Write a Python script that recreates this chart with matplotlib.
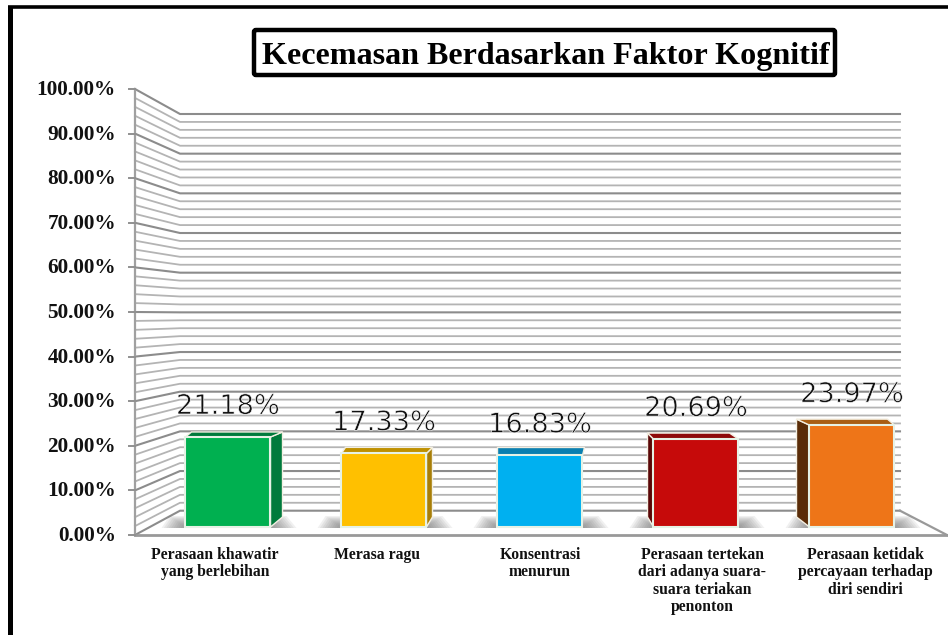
#!/usr/bin/env python3
import matplotlib
matplotlib.use('Agg')
import matplotlib.pyplot as plt
import matplotlib.patheffects as pe
from matplotlib.patches import Polygon, FancyBboxPatch

judul = "Kecemasan Berdasarkan Faktor Kognitif"
kategori = ["Perasaan khawatir\nyang berlebihan", "Merasa ragu", "Konsentrasi\nmenurun",
            "Perasaan tertekan\ndari adanya suara-\nsuara teriakan\npenonton",
            "Perasaan ketidak\npercayaan terhadap\ndiri sendiri"]
nilai = [21.18, 17.33, 16.83, 20.69, 23.97]
tick_nilai = [0, 10, 20, 30, 40, 50, 60, 70, 80, 90, 100]
warna_depan = ["#00B050", "#FFC000", "#00B0F0", "#C60A0A", "#EE7518"]
warna_atas = ["#007A3C", "#BF9000", "#0A7FB0", "#8E0A0A", "#A85E14"]
warna_sisi = ["#007A3C", "#A87E08", "#0A7FB0", "#5A0606", "#5A2C08"]

# layout in pixels of the 948x635 picture
KIRI, DINDING, KANAN, UJUNG = 135, 180, 900, 947
DASAR_KIRI, SKALA_KIRI = 535, 4.46
DASAR_BLK, SKALA_BLK = 510.7, 3.967
DASAR_BAR, SKALA_BAR = 527, 4.25
TENGAH, JARAK_BAR, LEBAR_BAR = 540, 156, 85
# how far the side edge and the far top edge shift, per bar
geser_sisi = [12, 6, 0, -6, -13]
geser_atas = [6, 4, 2, -9, -7]
tinggi_atas = [5, 6, 8, 6, 6]

serif = "Liberation Serif"

fig = plt.figure(figsize=(9.48, 6.35), dpi=100)
ax = fig.add_axes([0, 0, 1, 1])
ax.set_xlim(0, 948)
ax.set_ylim(635, 0)
ax.axis("off")

# outer frame, only left and top show
ax.plot([10.5, 10.5], [6, 635], color="black", lw=3.6, solid_capstyle="butt")
ax.plot([8, 948], [6.5, 6.5], color="black", lw=2.6, solid_capstyle="butt")

# grid lines: minor every 2 %, major every 10 %
for v in range(0, 101, 2):
    major = v % 10 == 0
    warna = "#8c8c8c" if major else "#b4b4b4"
    lw = 1.5 if major else 1.3
    yk = DASAR_KIRI - SKALA_KIRI * v
    yb = DASAR_BLK - SKALA_BLK * v
    ax.plot([KIRI, DINDING, KANAN], [yk, yb, yb], color=warna, lw=lw, zorder=1)

ax.plot([KIRI, KIRI], [DASAR_KIRI, DASAR_KIRI - SKALA_KIRI * 100], color="#a0a0a0", lw=1.6, zorder=2)
ax.plot([KIRI, UJUNG], [DASAR_KIRI, DASAR_KIRI], color="#999999", lw=2, zorder=2)
ax.plot([KANAN, UJUNG], [DASAR_BLK, DASAR_KIRI], color="#999999", lw=1.6, zorder=2)

for v in tick_nilai:
    y = DASAR_KIRI - SKALA_KIRI * v
    ax.plot([KIRI - 6, KIRI], [y, y], color="#909090", lw=1.4, zorder=2)
    ax.text(116, y + 1, f"{v:.2f}%", ha="right", va="center", family=serif,
            weight="bold", fontsize=15.3, color="#111111")

for i, v in enumerate(nilai):
    x0 = TENGAH + (i - 2) * JARAK_BAR - LEBAR_BAR / 2
    x1 = x0 + LEBAR_BAR
    atas = DASAR_BAR - SKALA_BAR * v
    dy = tinggi_atas[i]
    sisi = geser_sisi[i]
    jauh = geser_atas[i]

    # soft shadow on the floor
    for k in range(10):
        f = 1 - k / 10
        ax.add_patch(Polygon([(x0 - 24 * f, DASAR_BAR + 1), (x0 - 16 * f, DASAR_BAR - 11 * f),
                              (x1 + 16 * f, DASAR_BAR - 11 * f), (x1 + 26 * f, DASAR_BAR + 1)],
                             closed=True, facecolor="#707070", edgecolor="none", alpha=0.10, zorder=3))

    # near edge is the one the side face hangs on
    if sisi > 0:
        xd, xj = x1, x0
    else:
        xd, xj = x0, x1
    if sisi != 0:
        ax.add_patch(Polygon([(xd, DASAR_BAR), (xd + sisi, DASAR_BAR - 10), (xd + sisi, atas - dy), (xd, atas)],
                             closed=True, facecolor=warna_sisi[i], edgecolor="#f3efe2", lw=1.0, zorder=4))
    ax.add_patch(Polygon([(xd, atas), (xd + sisi, atas - dy), (xj + jauh, atas - dy), (xj, atas)],
                         closed=True, facecolor=warna_atas[i], edgecolor="#f3efe2", lw=1.0, zorder=4))
    ax.add_patch(Polygon([(x0, DASAR_BAR), (x0, atas), (x1, atas), (x1, DASAR_BAR)],
                         closed=True, facecolor=warna_depan[i], edgecolor="#e6f2e6", lw=1.5, zorder=5))

    # thin the glyphs with a fine white edge, the original numbers are light
    ax.text((x0 + x1) / 2, atas - 30, f"{v:.2f}%", ha="center", va="center",
            family="DejaVu Sans", fontsize=19.6, color="#111111", zorder=6,
            path_effects=[pe.Stroke(linewidth=0.45, foreground="white")])

for i, t in enumerate(kategori):
    ax.text(TENGAH + (i - 2) * 162.5, 547, t, ha="center", va="top", family=serif,
            weight="bold", fontsize=11.3, linespacing=1.12, color="#111111")

ax.add_patch(FancyBboxPatch((254, 30), 581, 45, boxstyle="round,pad=0,rounding_size=2",
                            facecolor="white", edgecolor="black", lw=3.2, zorder=7))
ax.text(546, 56.5, judul, ha="center", va="center", family=serif, weight="bold",
        fontsize=23.1, color="black", zorder=8)

fig.savefig("out.png", dpi=100)
